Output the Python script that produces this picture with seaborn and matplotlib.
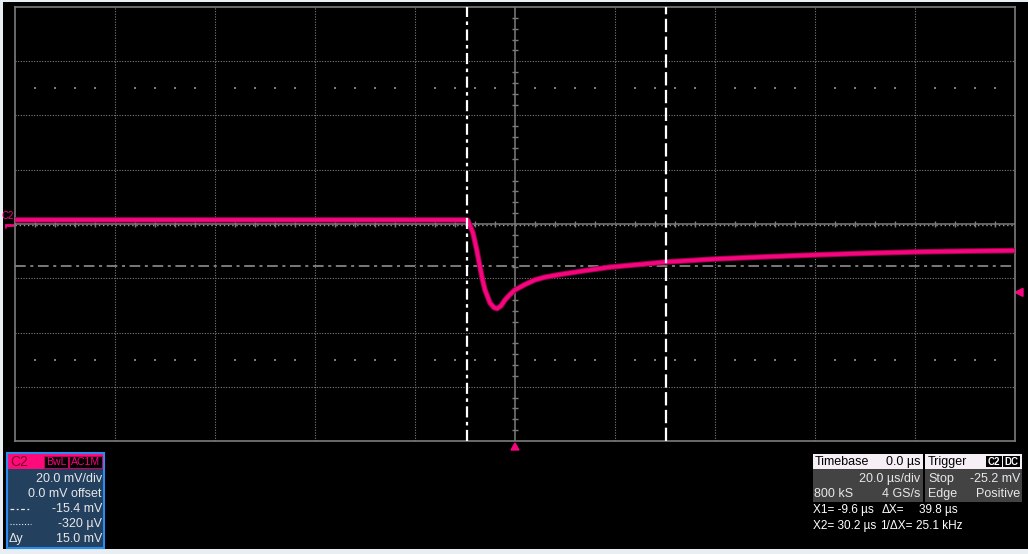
import pandas as pd
import seaborn as sns
import matplotlib.pyplot as plt
from matplotlib.patches import Rectangle, Polygon

# trace (time in us, level in mV)
time_us = [-100, -60, -30, -9.6, -9.4, -8.4, -7.6, -7.0, -6.5, -6.0, -5.0, -4.2, -3.6,
           -2.8, -2.0, -1.0, 0, 2, 4, 6, 9, 14, 19, 25, 30.2, 40, 50, 60, 70, 80, 90, 100]
level_mv = [1.5, 1.5, 1.5, 1.5, 1.2, -3.3, -10.0, -15.9, -20.5, -24.3, -29.1, -30.8, -31.2,
            -30.2, -28.0, -26.0, -24.3, -22.3, -20.6, -19.6, -18.6, -17.2, -15.9, -14.9,
            -14.0, -12.9, -12.1, -11.4, -10.8, -10.3, -10.0, -9.8]

cursor_x = [-9.6, 30.2]
cursor_y = [-15.4, -0.32]
trig_level = -25.2
volts_div = 20.0
time_div = 20.0

chan_rows = ["20.0 mV/div", "0.0 mV offset", "-15.4 mV", "-320 µV", "15.0 mV"]
readout_1 = ["X1= -9.6 µs", "ΔX=", "39.8 µs"]
readout_2 = ["X2= 30.2 µs", "1/ΔX=", "25.1 kHz"]

PINK = "#f5067f"
GRID = "#7c7c7c"

sns.set_style("dark")
plt.rcParams['font.family'] = ['Liberation Sans', 'DejaVu Sans']

W, H = 1028, 554
fig = plt.figure(figsize=(W / 100, H / 100), dpi=100, facecolor="#e9eef3")

# pixel overlay for background, markers and readouts
ov = fig.add_axes([0, 0, 1, 1], zorder=1)
ov.set_xlim(0, W)
ov.set_ylim(H, 0)
ov.axis("off")
ov.add_patch(Rectangle((3, 2), W - 3, 547, facecolor="black", edgecolor="none"))

ax = fig.add_axes([15 / W, 1 - 441 / H, 1000 / W, 434 / H], zorder=2)
ax.set_facecolor("black")
xmin, xmax = -5 * time_div, 5 * time_div
ymin, ymax = -4 * volts_div, 4 * volts_div
ax.set_xlim(xmin, xmax)
ax.set_ylim(ymin, ymax)
ax.set_xticks([])
ax.set_yticks([])
for s in ax.spines.values():
    s.set_color(GRID)
    s.set_linewidth(1.2)

# graticule
for k in range(-4, 5):
    if k != 0:
        ax.axvline(k * time_div, color=GRID, lw=0.8, ls=(0, (1, 1.4)), zorder=1)
for k in range(-3, 4):
    if k != 0:
        ax.axhline(k * volts_div, color=GRID, lw=0.8, ls=(0, (1, 1.4)), zorder=1)
ax.axvline(0, color=GRID, lw=1.1, zorder=1)
ax.axhline(0, color=GRID, lw=1.1, zorder=1)
minor_x = [i * time_div / 5 for i in range(-25, 26) if i % 5 != 0]
minor_y = [i * volts_div / 5 for i in range(-20, 21) if i % 5 != 0]
ax.vlines(minor_x, -1.1, 1.1, color=GRID, lw=1.0, zorder=1)
ax.hlines(minor_y, -0.6, 0.6, color=GRID, lw=1.0, zorder=1)
for yy in (2.5 * volts_div, -2.5 * volts_div):
    ax.scatter(minor_x, [yy] * len(minor_x), s=1.2, color=GRID, marker="s", lw=0, zorder=1)

# horizontal cursors
ax.axhline(cursor_y[0], color="#9a9a9a", lw=1.1, ls=(0, (7, 3, 2, 3)), zorder=2)
ax.axhline(cursor_y[1], color="#9a9a9a", lw=1.0, ls=(0, (1, 2)), zorder=0.5)

# trace
df = pd.DataFrame({"t": time_us, "v": level_mv})
sns.lineplot(data=df, x="t", y="v", ax=ax, color="#a3004f", lw=4.0, zorder=3,
             estimator=None, sort=False)
sns.lineplot(data=df, x="t", y="v", ax=ax, color=PINK, lw=2.6, zorder=4,
             estimator=None, sort=False)
ax.set_xlabel("")
ax.set_ylabel("")

# vertical cursors
ax.axvline(cursor_x[0], color="white", lw=1.6, ls=(0, (5, 2, 1.6, 2)), zorder=5)
ax.axvline(cursor_x[1], color="white", lw=1.6, ls=(0, (6, 2)), zorder=5)

# pixel helpers
def px_x(t):
    return 15 + (t - xmin) / (xmax - xmin) * 1000

def px_y(v):
    return 441 - (v - ymin) / (ymax - ymin) * 434

# channel marker on the left
ov.text(1, px_y(0) - 8, "C2", color=PINK, fontsize=7, va="center", ha="left")
ov.plot([5, 14], [px_y(0) + 1, px_y(0) + 1], color=PINK, lw=2, solid_capstyle="butt")
ov.plot([5.5, 5.5], [px_y(0) + 1, px_y(0) + 4], color=PINK, lw=1.2)
# trigger level and trigger position
ty = px_y(trig_level)
ov.add_patch(Polygon([[1015, ty], [1023, ty - 4], [1023, ty + 4]], color=PINK, zorder=5))
tx = px_x(0)
ov.add_patch(Polygon([[tx, 443], [tx - 4, 450], [tx + 4, 450]], color=PINK, zorder=5))

FS = 9
# channel box
ov.add_patch(Rectangle((7, 453), 97, 95, facecolor="#23405f", edgecolor="#2a8cf0", lw=1.5))
ov.add_patch(Rectangle((7.8, 453.8), 95.4, 15.5, facecolor="#ff0a7a", edgecolor="none"))
ov.text(10, 462, "C2", color="#7a0025", fontsize=10, va="center")
ov.add_patch(Rectangle((44, 455.5), 24, 12, facecolor="black", edgecolor="#c8005f", lw=0.8))
ov.text(56, 461.8, "BwL", color=PINK, fontsize=7.6, va="center", ha="center")
ov.add_patch(Rectangle((69, 455.5), 33, 12, facecolor="black", edgecolor="#c8005f", lw=0.8))
ov.text(85.5, 461.8, "AC1M", color=PINK, fontsize=7.6, va="center", ha="center")
for i, row in enumerate(chan_rows):
    ov.text(102, 478.5 + i * 15.1, row, color="#e8e8e8", fontsize=FS, va="center", ha="right")
ov.plot([10, 30], [508.5, 508.5], color="#e8e8e8", lw=0.9, ls=(0, (3, 2, 1.5, 2)))
ov.plot([10, 31], [523.5, 523.5], color="#e8e8e8", lw=0.8, ls=(0, (1, 1.6)))
ov.text(9, 539, "Δy", color="#e8e8e8", fontsize=FS, va="center")

# timebase box
ov.add_patch(Rectangle((813, 454), 110, 15, facecolor="#f6f0f6", edgecolor="none"))
ov.add_patch(Rectangle((813, 469), 110, 33, facecolor="#434343", edgecolor="none"))
ov.text(815, 462, "Timebase", color="black", fontsize=FS, va="center")
ov.text(920, 462, "0.0 µs", color="black", fontsize=FS, va="center", ha="right")
ov.text(920, 479, "20.0 µs/div", color="#e8e8e8", fontsize=FS, va="center", ha="right")
ov.text(814, 494, "800 kS", color="#e8e8e8", fontsize=FS, va="center")
ov.text(920, 494, "4 GS/s", color="#e8e8e8", fontsize=FS, va="center", ha="right")

# trigger box
ov.add_patch(Rectangle((925, 454), 97, 15, facecolor="#f6f0f6", edgecolor="none"))
ov.add_patch(Rectangle((925, 469), 97, 33, facecolor="#434343", edgecolor="none"))
ov.text(928, 462, "Trigger", color="black", fontsize=FS, va="center")
ov.add_patch(Rectangle((986, 456), 16, 11, facecolor="black", edgecolor="none"))
ov.text(994, 461.8, "C2", color="white", fontsize=7, va="center", ha="center", weight="bold")
ov.add_patch(Rectangle((1003, 456), 17, 11, facecolor="black", edgecolor="none"))
ov.text(1011.5, 461.8, "DC", color="white", fontsize=7, va="center", ha="center", weight="bold")
ov.text(928, 479, "Stop", color="#e8e8e8", fontsize=FS, va="center")
ov.text(1020, 479, "-25.2 mV", color="#e8e8e8", fontsize=FS, va="center", ha="right")
ov.text(928, 494, "Edge", color="#e8e8e8", fontsize=FS, va="center")
ov.text(1020, 494, "Positive", color="#e8e8e8", fontsize=FS, va="center", ha="right")

# cursor readouts
for yy, row, xs in ((510, readout_1, (813, 882, 919)), (526, readout_2, (813, 880, 916))):
    for xx, txt in zip(xs, row):
        ov.text(xx, yy, txt, color="white", fontsize=8.5, va="center")

fig.savefig("out.png", dpi=100, facecolor=fig.get_facecolor())
